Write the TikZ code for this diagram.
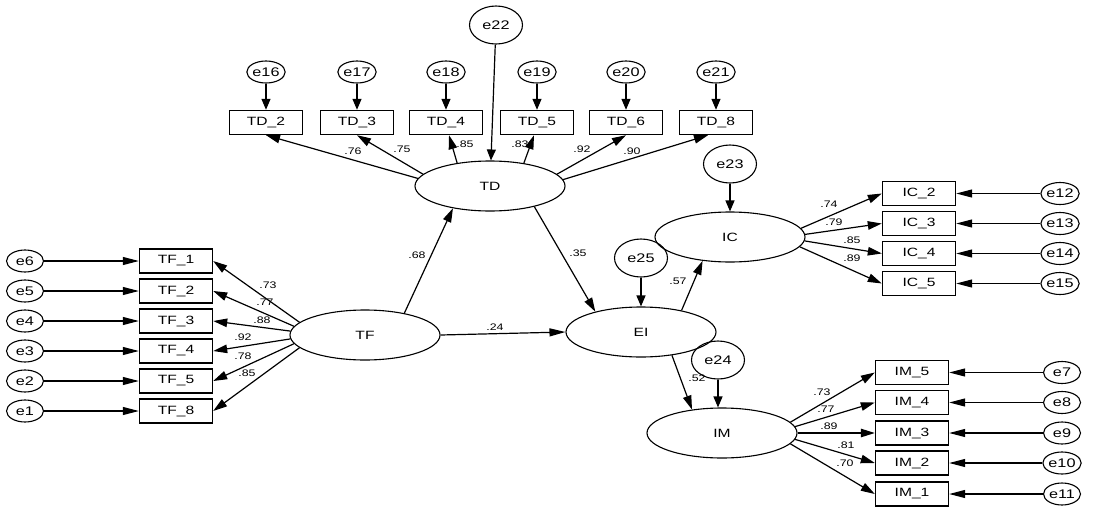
\documentclass[tikz,border=0pt]{standalone}
\usepackage{fontspec}
\setmainfont{Liberation Sans}[FakeStretch=1.3]
\usetikzlibrary{shapes.geometric,arrows.meta}
\begin{document}
\begin{tikzpicture}[x=1pt,y=-1pt,
 box/.style={draw,line width=1.4pt,minimum width=73pt,minimum height=24pt,inner sep=0pt,font=\fontsize{12}{12}\selectfont},
 lat/.style={draw,ellipse,line width=1.1pt,minimum width=150pt,minimum height=50pt,inner sep=0pt,font=\fontsize{12}{12}\selectfont},
 err/.style={draw,ellipse,line width=1.1pt,minimum width=37pt,minimum height=22pt,inner sep=0pt,font=\fontsize{12.5}{12}\selectfont},
 res/.style={draw,ellipse,line width=1.1pt,minimum width=53pt,minimum height=38pt,inner sep=0pt,font=\fontsize{12.5}{12}\selectfont},
 coef/.style={inner sep=0pt,font=\fontsize{9.5}{9.5}\selectfont},
 arrh/.style={line width=1.2pt,-{Triangle[length=16pt,width=8pt]}},
 arrv/.style={line width=1.2pt,-{Triangle[length=11pt,width=9pt]}},
 arrd/.style={line width=1.2pt,-{Triangle[length=14pt,width=8.5pt]}}
]
\useasboundingbox (0,0) rectangle (1101,509);

% ---------- TF block ----------
\node[lat] (TF) at (365,335) {TF};
\foreach \n/\y/\e in {1/261/6,2/291/5,3/321/4,4/351/3,5/381/2,8/411/1}{
  \node[box] (TF_\n) at (176,\y) {TF\_\n};
  \node[err] (e\e) at (25,\y) {e\e};
  \draw[arrh] (e\e) -- (TF_\n);
}
\draw[arrd] (TF.169) -- (TF_1.east);
\draw[arrd] (TF.173) -- (TF_2.east);
\draw[arrd] (TF.177) -- (TF_3.east);
\draw[arrd] (TF.183) -- (TF_4.east);
\draw[arrd] (TF.187) -- (TF_5.east);
\draw[arrd] (TF.191) -- (TF_8.east);
\node[coef] (cTF1) at (268,285) {.73};
\node[coef] (cTF2) at (265,302) {.77};
\node[coef] (cTF3) at (262,320) {.88};
\node[coef] (cTF4) at (243,337) {.92};
\node[coef] (cTF5) at (243,356) {.78};
\node[coef] (cTF8) at (247,373) {.85};

% ---------- TD block ----------
\node[lat] (TD) at (490,186) {TD};
\node[res] (e22) at (496,25) {e22};
\draw[arrv] (e22) -- (TD);
\foreach \n/\x/\e in {2/266/16,3/357/17,4/446/18,5/537/19,6/626/20,8/716/21}{
  \node[box] (TD_\n) at (\x,122.5) {TD\_\n};
  \node[err] (e\e) at (\x,72) {e\e};
  \draw[arrv] (e\e) -- (TD_\n);
}
\draw[arrd] (TD.174) -- (TD_2.south);
\draw[arrd] (TD.170) -- (TD_3.south);
\draw[arrd] (TD.145) -- ([xshift=3pt]TD_4.south);
\draw[arrd] (TD.34) -- ([xshift=-3pt]TD_5.south);
\draw[arrd] (TD.10) -- (TD_6.south);
\draw[arrd] (TD.5) -- ([xshift=-8pt]TD_8.south);
\node[coef] (cTD2) at (353,151) {.76};
\node[coef] (cTD3) at (402,149) {.75};
\node[coef] (cTD4) at (465,144) {.85};
\node[coef] (cTD5) at (520,144) {.83};
\node[coef] (cTD6) at (582,149) {.92};
\node[coef] (cTD8) at (632,151) {.90};

% ---------- structural part ----------
\node[lat] (EI) at (641,332) {EI};
\node[lat] (IC) at (730,237) {IC};
\node[lat] (IM) at (722,433) {IM};
\node[res] (e23) at (730,164) {e23};
\node[res] (e25) at (641,258) {e25};
\node[res] (e24) at (718,360) {e24};
\draw[arrv] (e23) -- (IC);
\draw[arrv] (e25) -- (EI);
\draw[arrv] (e24.south) -- (e24.south |- IM.north);
\draw[arrd] (TF.29) -- (TD.211);
\draw[arrh] (TF.east) -- (EI.west);
\draw[arrd] (TD.335) -- (EI.156);
\draw[arrd] (EI.28) -- (IC.221);
\draw[arrd] (EI.323) -- (IM.142);
\node[coef] (c68) at (417,255) {.68};
\node[coef] (c24) at (495,327) {.24};
\node[coef] (c35) at (578,253) {.35};
\node[coef] (c57) at (678,281) {.57};
\node[coef] (c52) at (697,378) {.52};

% ---------- IC block ----------
\foreach \n/\y/\e in {2/193.5/12,3/223.5/13,4/253.5/14,5/283.5/15}{
  \node[box] (IC_\n) at (919,\y) {IC\_\n};
  \node[err] (e\e) at (1060,\y) {e\e};
  \draw[arrh] (e\e) -- (IC_\n);
}
\draw[arrd] (IC.7) -- (IC_2.west);
\draw[arrd] (IC.2) -- (IC_3.west);
\draw[arrd] (IC.-3) -- (IC_4.west);
\draw[arrd] (IC.-8) -- (IC_5.west);
\node[coef] (cIC2) at (829,204) {.74};
\node[coef] (cIC3) at (834,222) {.79};
\node[coef] (cIC4) at (852,240) {.85};
\node[coef] (cIC5) at (852,258) {.89};

% ---------- IM block ----------
\foreach \n/\y/\e in {5/372.5/7,4/402.5/8,3/433/9,2/463/10,1/494/11}{
  \node[box] (IM_\n) at (912,\y) {IM\_\n};
  \node[err] (e\e) at (1062,\y) {e\e};
  \draw[arrh] (e\e) -- (IM_\n);
}
\draw[arrd] (IM.9) -- (IM_5.west);
\draw[arrd] (IM.5) -- (IM_4.west);
\draw[arrd] (IM.0) -- (IM_3.west);
\draw[arrd] (IM.-5) -- (IM_2.west);
\draw[arrd] (IM.-9) -- (IM_1.west);
\node[coef] (cIM5) at (822,392) {.73};
\node[coef] (cIM4) at (826,409) {.77};
\node[coef] (cIM3) at (829,426) {.89};
\node[coef] (cIM2) at (846,445) {.81};
\node[coef] (cIM1) at (845,463) {.70};
\end{tikzpicture}
\end{document}
